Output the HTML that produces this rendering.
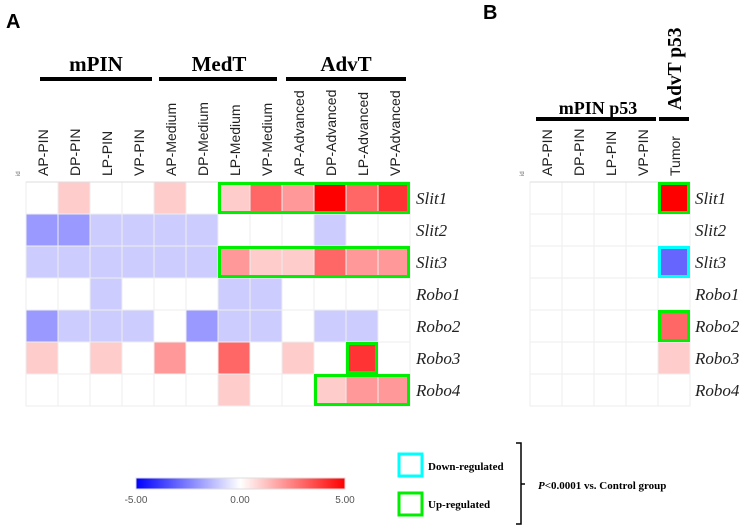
<!DOCTYPE html>
<html><head><meta charset="utf-8">
<style>
body{margin:0;background:#fff;width:750px;height:532px;overflow:hidden;font-family:"Liberation Sans",sans-serif}
svg{display:block}
.ser{font-family:"Liberation Serif",serif}
</style></head>
<body>
<svg id="s" width="750" height="532">
<text x="6" y="28" font-size="20" font-weight="bold">A</text>
<text x="483" y="19" font-size="20" font-weight="bold">B</text>
<g class="ser" font-weight="bold" font-size="21">
<text x="96" y="71" text-anchor="middle">mPIN</text>
<text x="219" y="71" text-anchor="middle">MedT</text>
<text x="346" y="71" text-anchor="middle">AdvT</text>
<text x="598" y="114" text-anchor="middle" font-size="18">mPIN p53</text>
<text transform="translate(681,110) rotate(-90)" font-size="19.5">AdvT p53</text>
</g>
<rect x="40" y="77" width="112" height="4" fill="#000"/>
<rect x="159" y="77" width="118" height="4" fill="#000"/>
<rect x="286" y="77" width="120" height="4" fill="#000"/>
<rect x="536" y="117" width="120" height="4" fill="#000"/>
<rect x="659" y="117" width="30" height="4" fill="#000"/>
<text transform="translate(20,176) rotate(-90)" font-size="6" fill="#666">id</text>
<text transform="translate(524,176) rotate(-90)" font-size="6" fill="#666">id</text>
<g id="grid"></g>
<defs><linearGradient id="cg" x1="0" x2="1"><stop offset="0" stop-color="#00f"/><stop offset="0.5" stop-color="#fff"/><stop offset="1" stop-color="#f00"/></linearGradient></defs>
<rect x="136" y="478" width="209" height="11" fill="url(#cg)" stroke="#ddd"/>
<g font-size="10" fill="#555" text-anchor="middle">
<text x="136" y="503">-5.00</text>
<text x="240" y="503">0.00</text>
<text x="345" y="503">5.00</text>
</g>
<rect x="399" y="454" width="23" height="22" fill="none" stroke="#0ff" stroke-width="3"/>
<rect x="399" y="493" width="23" height="22" fill="none" stroke="#0e0" stroke-width="3"/>
<g class="ser" font-weight="bold" font-size="11">
<text x="428" y="470">Down-regulated</text>
<text x="428" y="508">Up-regulated</text>
<text x="538" y="489"><tspan font-style="italic">P</tspan>&lt;0.0001 vs. Control group</text>
</g>
<path d="M516,443 H521 V524 H516 M521,484 H525" fill="none" stroke="#000" stroke-width="1.5"/>
</svg>
<script>
const genes=["Slit1","Slit2","Slit3","Robo1","Robo2","Robo3","Robo4"];
const colsA=["AP-PIN","DP-PIN","LP-PIN","VP-PIN","AP-Medium","DP-Medium","LP-Medium","VP-Medium","AP-Advanced","DP-Advanced","LP-Advanced","VP-Advanced"];
const colsB=["AP-PIN","DP-PIN","LP-PIN","VP-PIN","Tumor"];
const valuesA=[
[0,1,0,0,1,0,1,3,2,5,3,4],
[-2,-2,-1,-1,-1,-1,0,0,0,-1,0,0],
[-1,-1,-1,-1,-1,-1,2,1,1,3,2,2],
[0,0,-1,0,0,0,-1,-1,0,0,0,0],
[-2,-1,-1,-1,0,-2,-1,-1,0,-1,-1,0],
[1,0,1,0,2,0,3,0,1,0,4,0],
[0,0,0,0,0,0,1,0,0,1,2,2]];
const valuesB=[[0,0,0,0,5],[0,0,0,0,0],[0,0,0,0,-3],[0,0,0,0,0],[0,0,0,0,3],[0,0,0,0,1],[0,0,0,0,0]];
const boxesA=[[0,6,11,"up"],[2,6,11,"up"],[5,10,10,"up"],[6,9,11,"up"]];
const boxesB=[[0,4,4,"up"],[2,4,4,"down"],[4,4,4,"up"]];
const NS="http://www.w3.org/2000/svg";
const g=document.getElementById("grid");
const CW=32,RH=32,Y0=182;
function col(v){if(v>=0){const c=Math.round(255-51*v);return `rgb(255,${c},${c})`;}const c=Math.round(255+51*v);return `rgb(${c},${c},255)`;}
function mk(t,a){const e=document.createElementNS(NS,t);for(const k in a)e.setAttribute(k,a[k]);g.appendChild(e);return e;}
function panel(x0,cols,vals,boxes,lx){
  cols.forEach((c,j)=>{
    const t=mk("text",{transform:`translate(${x0+j*CW+22},176) rotate(-90)`,"font-size":"14",fill:"#222"});
    t.textContent=c;
    
    
  });
  vals.forEach((row,i)=>{
    row.forEach((v,j)=>{
      const r=mk("rect",{x:x0+j*CW,y:Y0+i*RH,width:CW,height:RH,fill:col(v),stroke:"#eee","stroke-width":"1"});
      
      
    });
    const t=mk("text",{x:lx,y:Y0+i*RH+22,"font-size":"17","font-style":"italic","font-family":"Liberation Serif, serif",fill:"#222"});
    t.textContent=genes[i];
    
    
  });
  mk("line",{x1:x0,x2:x0+cols.length*CW,y1:Y0,y2:Y0,stroke:"#ddd"});
  boxes.forEach(b=>{
    const r=mk("rect",{x:x0+b[1]*CW+1.5,y:Y0+b[0]*RH+1.5,width:(b[2]-b[1]+1)*CW-3,height:RH-3,fill:"none",stroke:b[3]=="up"?"#0e0":"#0ff","stroke-width":"3"});
    
    
  });
}
panel(26,colsA,valuesA,boxesA,416);
panel(530,colsB,valuesB,boxesB,695);
</script>
</body></html>
